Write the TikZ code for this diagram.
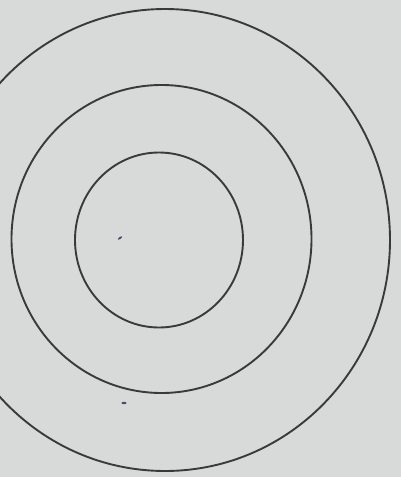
\documentclass[tikz,border=0pt]{standalone}
\definecolor{paper}{RGB}{216,218,218}
\definecolor{pencil}{RGB}{58,58,60}
\definecolor{speck}{RGB}{70,80,100}
\tikzset{ring/.style={draw=pencil,line width=1.9pt}}
\begin{document}
\begin{tikzpicture}[x=1pt,y=-1pt]
\useasboundingbox (0,0) rectangle (401,477);
\fill[paper] (0,0) rectangle (401,477);
\clip (0,0) rectangle (401,477);
\draw[ring] (165,240) ellipse [x radius=225, y radius=231];
\draw[ring] (161.5,239) ellipse [x radius=150, y radius=154];
\draw[ring] (159,240) ellipse [x radius=84, y radius=87.5];
\fill[speck,rotate around={35:(120,238)}] (120,238) ellipse [x radius=2.5, y radius=1];
\fill[speck] (124,403) ellipse [x radius=2.5, y radius=1.2];
\end{tikzpicture}
\end{document}
